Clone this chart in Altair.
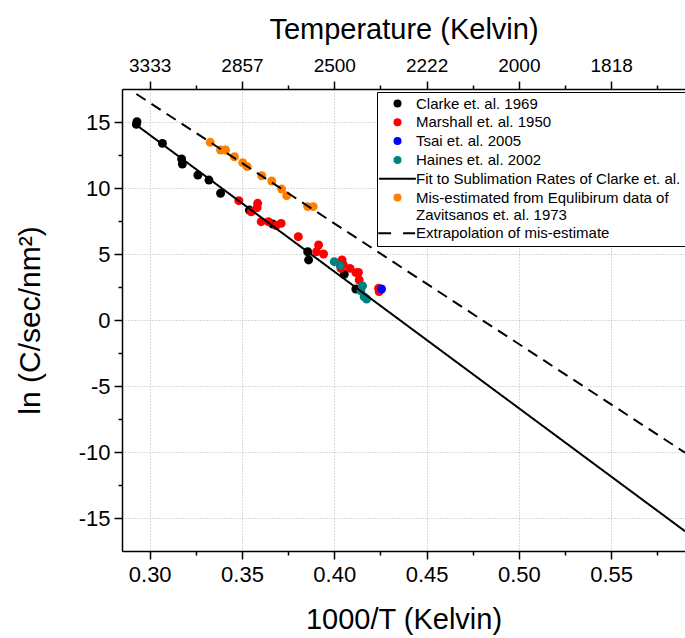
import altair as alt
import pandas as pd

# ---------------- data ----------------
clarke_x = [0.2931, 0.2928, 0.3069, 0.3173, 0.3177, 0.3261, 0.3321, 0.3384, 0.3540, 0.3667, 0.3856, 0.3861, 0.4054, 0.4117]
clarke_y = [15.02, 14.82, 13.38, 12.20, 11.82, 10.98, 10.60, 9.60, 8.33, 7.27, 5.17, 4.55, 3.46, 2.35]

marshall_x = [0.3483, 0.3585, 0.3582, 0.3550, 0.3604, 0.3643, 0.3685, 0.3712, 0.3805, 0.3915, 0.3904, 0.3942,
              0.4042, 0.4049, 0.4036, 0.4085, 0.4117, 0.4131, 0.4135, 0.4240, 0.4243]
marshall_y = [9.04, 8.84, 8.51, 8.20, 7.45, 7.45, 7.15, 7.32, 6.31, 5.68, 5.17, 5.00,
              4.55, 4.20, 3.91, 3.91, 3.59, 3.61, 3.03, 2.40, 2.15]

tsai_x = [0.4256]
tsai_y = [2.35]

haines_x = [0.4000, 0.4032, 0.4153, 0.4144, 0.4162, 0.4175]
haines_y = [4.42, 4.12, 2.58, 2.20, 1.75, 1.59]

zav_x = [0.3328, 0.3384, 0.3411, 0.3459, 0.3504, 0.3528, 0.3607, 0.3661, 0.3715, 0.3742, 0.3856, 0.3886]
zav_y = [13.46, 12.88, 12.88, 12.37, 11.92, 11.62, 10.93, 10.53, 9.92, 9.42, 8.59, 8.59]

fit_x = [0.2928, 0.59]
fit_y = [14.77, -16.0]

extrap_x = [0.2928, 0.59]
extrap_y = [17.12, -10.05]

series_names = [
    "Clarke et. al. 1969",
    "Marshall et. al. 1950",
    "Tsai et. al. 2005",
    "Haines et. al. 2002",
    "Fit to Sublimation Rates of Clarke et. al.",
    "Mis-estimated from Equlibirum data of|Zavitsanos et. al. 1973",
    "Extrapolation of mis-estimate",
]
series_colors = ["#000000", "#ff0000", "#0000ff", "#008080", "#000000", "#ff8000", "#000000"]

x_major = [0.30, 0.35, 0.40, 0.45, 0.50, 0.55]
x_ticks = [0.30, 0.325, 0.35, 0.375, 0.40, 0.425, 0.45, 0.475, 0.50, 0.525, 0.55, 0.575]
temp_labels = ["3333", "2857", "2500", "2222", "2000", "1818"]
y_ticks = [-15, -12.5, -10, -7.5, -5, -2.5, 0, 2.5, 5, 7.5, 10, 12.5, 15]

# ---------------- tables ----------------
pts = pd.concat([
    pd.DataFrame({"x": clarke_x, "y": clarke_y, "series": series_names[0]}),
    pd.DataFrame({"x": marshall_x, "y": marshall_y, "series": series_names[1]}),
    pd.DataFrame({"x": tsai_x, "y": tsai_y, "series": series_names[2]}),
    pd.DataFrame({"x": haines_x, "y": haines_y, "series": series_names[3]}),
    pd.DataFrame({"x": zav_x, "y": zav_y, "series": series_names[5]}),
], ignore_index=True)
pts["ord"] = range(len(pts))

lines = pd.concat([
    pd.DataFrame({"x": fit_x, "y": fit_y, "series": series_names[4]}),
    pd.DataFrame({"x": extrap_x, "y": extrap_y, "series": series_names[6]}),
], ignore_index=True)

FONT = "Liberation Sans"
# legend glyphs: a solid bar and a two-dash bar (filled paths, scaled by the symbol size)
SOLID_SYM = "M-4.6,-0.25H4.6V0.25H-4.6Z"
DASH_SYM = "M-4.8,-0.25H-1.6V0.25H-4.8Z M1.4,-0.25H4.4V0.25H1.4Z"
shapes = ["circle", "circle", "circle", "circle", SOLID_SYM, "circle", DASH_SYM]

legend = alt.Legend(
    title=None, orient="none", legendX=255, legendY=3,
    strokeColor="black", fillColor="white", padding=4, cornerRadius=0,
    symbolOffset=9, symbolSize=64, symbolStrokeWidth=0, labelOffset=11, rowPadding=2.8,
    labelFont=FONT, labelFontSize=15, labelColor="black", labelLimit=0,
    labelExpr="split(datum.label, '|')",
)

major_x_test = "abs(datum.value * 20 - round(datum.value * 20)) < 0.001"
major_y_test = "abs(datum.value / 5 - round(datum.value / 5)) < 0.001"

x_scale = alt.Scale(domain=[0.285, 0.59], nice=False, zero=False)
y_scale = alt.Scale(domain=[-17.5, 17.5], nice=False, zero=False)

axis_common = dict(domainColor="black", domainWidth=1.5, tickColor="black", tickWidth=1.5,
                   labelColor="black", labelFont=FONT, titleFont=FONT, titleColor="black",
                   titleFontWeight="normal", gridColor="#b4b4b4", gridDash=[1, 2], gridWidth=1)

axis_bottom = alt.Axis(
    orient="bottom", values=x_ticks, format=".2f",
    labelExpr=f"{major_x_test} ? datum.label : ''",
    tickSize={"condition": {"test": major_x_test, "value": 8}, "value": 4},
    grid=True, gridOpacity={"condition": {"test": major_x_test, "value": 1}, "value": 0},
    labelFontSize=22, labelPadding=5, labelFlush=False,
    title="1000/T (Kelvin)", titleFontSize=29, titlePadding=20,
    **axis_common,
)

temp_expr = " : ".join(
    f"datum.label == '{v:.2f}' ? '{t}'" for v, t in zip(x_major, temp_labels)
) + " : ''"
axis_top = alt.Axis(
    orient="top", values=x_ticks, format=".2f",
    labelExpr=temp_expr,
    tickSize={"condition": {"test": major_x_test, "value": 8}, "value": 4},
    grid=False, labelFontSize=19, labelPadding=6, labelFlush=False,
    title="Temperature (Kelvin)", titleFontSize=29, titlePadding=12,
    **axis_common,
)

axis_left = alt.Axis(
    orient="left", values=y_ticks,
    labelExpr=f"{major_y_test} ? ('' + datum.value) : ''",
    tickSize={"condition": {"test": major_y_test, "value": 8}, "value": 4},
    grid=True, gridOpacity={"condition": {"test": major_y_test, "value": 1}, "value": 0},
    labelFontSize=22, labelPadding=4, labelFlush=False,
    title="ln (C/sec/nm²)", titleFontSize=30, titlePadding=33,
    **axis_common,
)

color = alt.Color("series:N", scale=alt.Scale(domain=series_names, range=series_colors), legend=legend)

points = alt.Chart(pts).mark_point(filled=True, size=80, opacity=1, clip=True).encode(
    x=alt.X("x:Q", scale=x_scale, axis=axis_bottom),
    y=alt.Y("y:Q", scale=y_scale, axis=axis_left),
    color=color,
    shape=alt.Shape("series:N", scale=alt.Scale(domain=series_names, range=shapes), legend=legend),
    order=alt.Order("ord:Q"),
)

line_layer = alt.Chart(lines).mark_line(strokeWidth=2, clip=True).encode(
    x=alt.X("x:Q", scale=x_scale, axis=axis_top),
    y=alt.Y("y:Q", scale=y_scale, axis=axis_left),
    color=color,
    strokeDash=alt.StrokeDash("series:N",
                              scale=alt.Scale(domain=[series_names[4], series_names[6]],
                                              range=[[1, 0], [11, 7]]),
                              legend=None),
    detail="series:N",
)

chart = alt.layer(points, line_layer).resolve_axis(x="independent").properties(
    width=563, height=462,
    padding={"left": 122, "top": 89, "right": 0, "bottom": 87},
    autosize=alt.AutoSizeParams(type="none"),
).configure_view(stroke=None).configure(font=FONT, background="white")

chart.save("out.html", embed_options={"renderer": "svg", "actions": False})
